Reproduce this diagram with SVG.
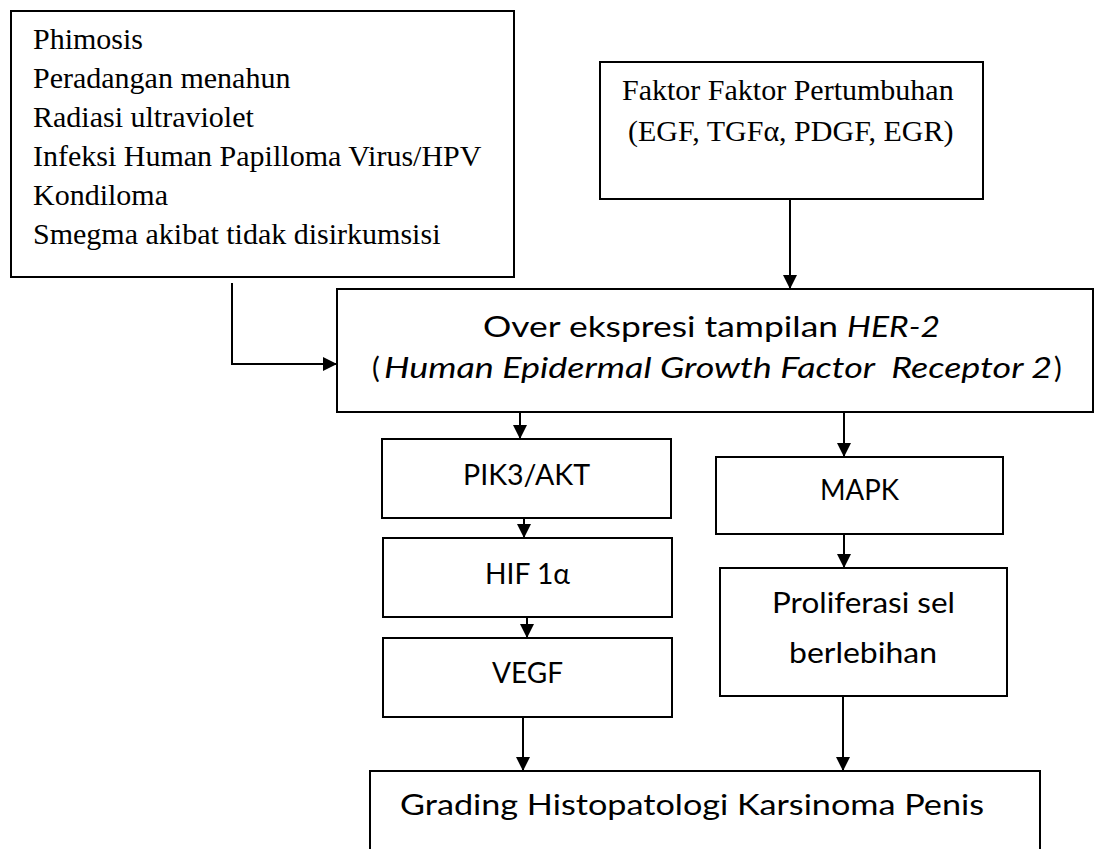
<svg xmlns="http://www.w3.org/2000/svg" width="1095" height="849" viewBox="0 0 1095 849">
<style>
.box{fill:#fff;stroke:#000;stroke-width:2}
.serif{font-family:"Liberation Serif","Times New Roman",serif;font-size:30px;fill:#000}
.sans{font-family:Lato,"Open Sans","Noto Sans",sans-serif;font-size:29px;fill:#000}
.it{font-style:italic}
.conn{fill:none;stroke:#000;stroke-width:2}
</style>
<defs>
<marker id="ah" markerUnits="userSpaceOnUse" markerWidth="14" markerHeight="14" refX="14" refY="7" orient="auto">
<path d="M0,0 L14,7 L0,14 z" fill="#000"/>
</marker>
</defs>
<rect width="1095" height="849" fill="#fff"/>

<g id="connectors">
<path class="conn" d="M790,199 V289" marker-end="url(#ah)"/>
<path class="conn" d="M232,283 V364 H337" marker-end="url(#ah)"/>
<path class="conn" d="M520,412 V439" marker-end="url(#ah)"/>
<path class="conn" d="M524,518 V538" marker-end="url(#ah)"/>
<path class="conn" d="M527,617 V638" marker-end="url(#ah)"/>
<path class="conn" d="M523,717 V771" marker-end="url(#ah)"/>
<path class="conn" d="M844,412 V457" marker-end="url(#ah)"/>
<path class="conn" d="M844,534 V568" marker-end="url(#ah)"/>
<path class="conn" d="M843,696 V771" marker-end="url(#ah)"/>
</g>

<g id="faktor-risiko">
<rect class="box" x="11" y="11" width="503" height="266"/>
<text class="serif" x="33" y="49">Phimosis</text>
<text class="serif" x="33" y="88">Peradangan menahun</text>
<text class="serif" x="33" y="127">Radiasi ultraviolet</text>
<text class="serif" x="33" y="166">Infeksi Human Papilloma Virus/HPV</text>
<text class="serif" x="33" y="205">Kondiloma</text>
<text class="serif" x="33" y="244">Smegma akibat tidak disirkumsisi</text>
</g>

<g id="faktor-pertumbuhan">
<rect class="box" x="600" y="62" width="383" height="137"/>
<text class="serif" x="622" y="100">Faktor Faktor Pertumbuhan</text>
<text class="serif" x="628" y="141">(EGF, TGFα, PDGF, EGR)</text>
</g>

<g id="her2">
<rect class="box" x="337" y="289" width="756" height="123"/>
<text class="sans" x="483" y="337" textLength="355" lengthAdjust="spacingAndGlyphs">Over ekspresi tampilan</text>
<text class="sans it" x="847" y="337" textLength="93" lengthAdjust="spacingAndGlyphs">HER-2</text>
<text class="sans" x="372" y="378">(</text>
<text class="sans it" x="384" y="378" textLength="668" lengthAdjust="spacingAndGlyphs" xml:space="preserve">Human Epidermal Growth Factor  Receptor 2</text>
<text class="sans" x="1054" y="378">)</text>
</g>

<g id="pik3-akt">
<rect class="box" x="382" y="439" width="289" height="79"/>
<text class="sans" x="463" y="485" textLength="127" lengthAdjust="spacingAndGlyphs">PIK3/AKT</text>
</g>

<g id="hif">
<rect class="box" x="383" y="538" width="289" height="79"/>
<text class="sans" x="485" y="584" textLength="85" lengthAdjust="spacingAndGlyphs">HIF 1α</text>
</g>

<g id="vegf">
<rect class="box" x="383" y="638" width="289" height="79"/>
<text class="sans" x="492" y="683" textLength="71" lengthAdjust="spacingAndGlyphs">VEGF</text>
</g>

<g id="mapk">
<rect class="box" x="716" y="457" width="287" height="77"/>
<text class="sans" x="820" y="500" textLength="79" lengthAdjust="spacingAndGlyphs">MAPK</text>
</g>

<g id="proliferasi">
<rect class="box" x="720" y="568" width="287" height="128"/>
<text class="sans" x="772" y="613" textLength="183" lengthAdjust="spacingAndGlyphs">Proliferasi sel</text>
<text class="sans" x="789" y="663" textLength="148" lengthAdjust="spacingAndGlyphs">berlebihan</text>
</g>

<g id="grading">
<rect class="box" x="370" y="771" width="670" height="100"/>
<text class="sans" x="400" y="815" textLength="584" lengthAdjust="spacingAndGlyphs">Grading Histopatologi Karsinoma Penis</text>
</g>
</svg>
